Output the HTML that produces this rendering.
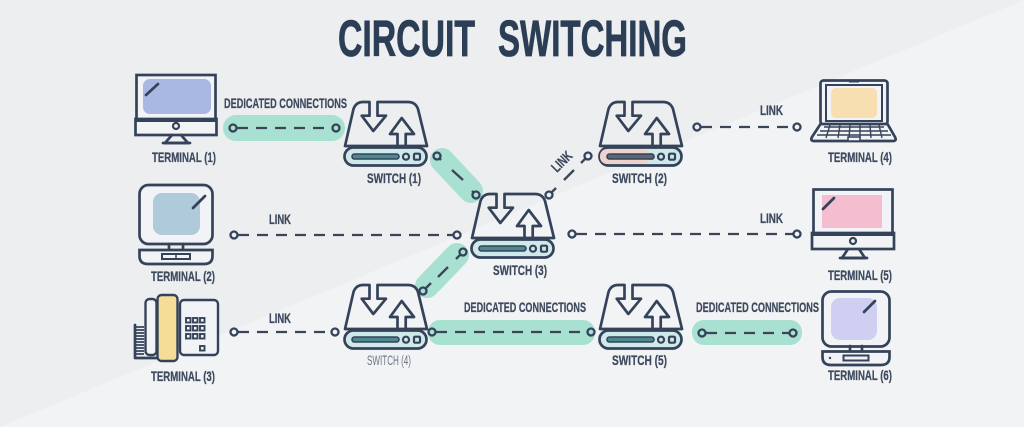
<!DOCTYPE html>
<html><head><meta charset="utf-8"><title>Circuit Switching</title>
<style>
html,body{margin:0;padding:0;background:#eceef0}
svg{display:block}
text{font-family:"Liberation Sans",sans-serif;font-weight:700;fill:#3d4a5e}
.t{font-size:14px;stroke:#3d4a5e;stroke-width:.25}
.h{font-size:51px;fill:#2c3e55;stroke:#2c3e55;stroke-width:.8}
.ln{fill:none;stroke:#35435a;stroke-width:2.7;stroke-linejoin:round;stroke-linecap:round}
.d{fill:none;stroke:#3a4658;stroke-width:2.3;stroke-dasharray:11 8}
.s{fill:none;stroke:#3a4658;stroke-width:2.3}
.c{fill:none;stroke:#35435a;stroke-width:2.3}
.g{fill:none;stroke:#a8e0d2;stroke-linecap:round}
</style></head><body>
<svg width="1024" height="427" viewBox="0 0 1024 427" xmlns="http://www.w3.org/2000/svg">
<defs>
<g id="sw">
<path class="ln" d="M26.500 2H20Q13 2 10.500 9L2 46H84L75 9Q72.500 2 65 2H34.500V15.700H43L30.300 31L18.700 15.700H26.500Z"/>
<path class="ln" d="M54.500 46V34H47L58.700 18L71 34H62.700V46"/>
<rect x="1.500" y="47.500" width="82" height="18" rx="9" fill="#cfe8ea" stroke="#35435a" stroke-width="2.700"/>
<rect x="9" y="54" width="47" height="5" rx="2.500" fill="#4d8a90" stroke="#35435a" stroke-width="1.600"/>
<circle cx="63" cy="56.700" r="3" fill="none" stroke="#35435a" stroke-width="2.200"/>
<rect x="71" y="53.700" width="6" height="6" rx="1" fill="none" stroke="#35435a" stroke-width="2.200"/>
</g>
</defs>
<rect width="1024" height="427" fill="#eceef0"/>
<polygon points="1024,0 1024,427 0,427" fill="#f1f3f5"/>

<text class="h" x="338" y="56" textLength="137" lengthAdjust="spacingAndGlyphs">CIRCUIT</text>
<text class="h" x="498" y="56" textLength="189" lengthAdjust="spacingAndGlyphs">SWITCHING</text>

<!-- teal pills -->
<rect x="223" y="115" width="122" height="26" rx="13" fill="#a8e0d2"/>
<line class="g" x1="442" y1="160" x2="471" y2="191" stroke-width="24"/>
<line class="g" x1="457" y1="255" x2="427" y2="286" stroke-width="24"/>
<rect x="428" y="320" width="167" height="25" rx="12" fill="#a8e0d2"/>
<rect x="692" y="320" width="110" height="25" rx="12" fill="#a8e0d2"/>

<!-- connectors -->
<path class="d" d="M237 128H332"/><circle class="c" cx="233" cy="128" r="3.500"/><circle class="c" cx="336" cy="128" r="3.500"/>
<path class="s" d="M452 170L463 180M439 158L441 160M472 191L474 193"/><circle class="c" cx="437" cy="156" r="3.500"/><circle class="c" cx="476" cy="195" r="3.500"/>
<path class="s" d="M438 277L448 267M426 288L431 283M460 255L456 259"/><circle class="c" cx="463" cy="252" r="3.500"/><circle class="c" cx="423" cy="291" r="3.500"/>
<path class="d" d="M436 332H587"/><circle class="c" cx="432" cy="332" r="3.500"/><circle class="c" cx="591" cy="332" r="3.500"/>
<path class="d" d="M706 333H789"/><circle class="c" cx="702" cy="333" r="3.500"/><circle class="c" cx="793" cy="333" r="3.500"/>
<path class="d" d="M701 127H793"/><circle class="c" cx="697" cy="127" r="3.500"/><circle class="c" cx="797" cy="127" r="3.500"/>
<path class="d" d="M238 235H453"/><circle class="c" cx="234" cy="235" r="3.500"/><circle class="c" cx="457" cy="235" r="3.500"/>
<path class="d" d="M576 234H793"/><circle class="c" cx="572" cy="234" r="3.500"/><circle class="c" cx="797" cy="234" r="3.500"/>
<path class="d" d="M238 332H331"/><circle class="c" cx="234" cy="332" r="3.500"/><circle class="c" cx="335" cy="332" r="3.500"/>
<circle class="c" cx="588" cy="156" r="3.500"/><circle class="c" cx="549" cy="195" r="3.500"/>
<path class="s" d="M564 180L574 170M552 192L556 188M585 159L581 163"/>

<!-- switches -->
<use href="#sw" x="343" y="100"/>
<use href="#sw" x="598" y="100"/>
<use href="#sw" x="470" y="192"/>
<use href="#sw" x="343" y="283"/>
<use href="#sw" x="598" y="283"/>
<rect x="600" y="149" width="50" height="15" rx="7" fill="#eed3cc"/>
<rect x="607" y="154" width="47" height="5" rx="2.500" fill="#5f6670" stroke="#35435a" stroke-width="1.600"/>

<!-- Terminal 1 -->
<rect x="136.500" y="75" width="79" height="45" fill="#f2f3f6" stroke="#35435a" stroke-width="2.700"/>
<rect x="143" y="79" width="68" height="35" rx="7" fill="#a9b8e2"/>
<path class="ln" d="M146 95L158 84"/>
<rect x="135.500" y="119" width="81" height="16" fill="#f2f3f5" stroke="#35435a" stroke-width="2.700"/>
<line x1="135" y1="120.500" x2="217" y2="120.500" stroke="#35435a" stroke-width="3"/>
<circle cx="176" cy="126" r="3" fill="none" stroke="#35435a" stroke-width="2.200"/>
<path class="ln" d="M172 135L165 143H188L181 135"/><path class="ln" d="M163 143H190"/>

<!-- Terminal 5 -->
<rect x="813.500" y="189.500" width="79" height="45" fill="#f2f3f6" stroke="#35435a" stroke-width="2.700"/>
<rect x="822" y="195" width="60" height="33" fill="#f4bdd0"/>
<path class="ln" d="M823 209L834 198"/>
<rect x="812" y="233" width="82" height="16" fill="#f2f3f5" stroke="#35435a" stroke-width="2.700"/>
<line x1="811" y1="234.500" x2="895" y2="234.500" stroke="#35435a" stroke-width="3"/>
<circle cx="853" cy="241" r="3" fill="none" stroke="#35435a" stroke-width="2.200"/>
<path class="ln" d="M848 249L842 258H865L859 249"/><path class="ln" d="M840 258H867"/>

<!-- Terminal 2 -->
<rect x="139.500" y="185" width="73" height="59" rx="9" fill="#f2f3f6" stroke="#35435a" stroke-width="2.700"/>
<rect x="153" y="193" width="47" height="42" rx="9" fill="#afcbd9"/>
<path class="ln" d="M193 208L205 196"/>
<path class="ln" d="M169 244V250M183 244V250"/>
<path d="M139.500 250H212.500V256Q212.500 264 204 264H148Q139.500 264 139.500 256Z" fill="#f2f3f6" stroke="#35435a" stroke-width="2.700"/>
<rect x="162" y="254" width="28" height="5" fill="none" stroke="#35435a" stroke-width="2"/>
<line x1="176" y1="254" x2="176" y2="259" stroke="#35435a" stroke-width="1.500"/>

<!-- Terminal 6 -->
<rect x="822.500" y="291.500" width="67" height="55" rx="9" fill="#f2f3f6" stroke="#35435a" stroke-width="2.700"/>
<rect x="831" y="298" width="46" height="42" rx="9" fill="#cfcff2"/>
<path class="ln" d="M864 312L875 301"/>
<path class="ln" d="M850 346V351M862 346V351"/>
<path d="M822.500 351.500H889.500V357Q889.500 365 881 365H831Q822.500 365 822.500 357Z" fill="#f2f3f6" stroke="#35435a" stroke-width="2.700"/>
<rect x="843.500" y="355.500" width="25" height="5" fill="none" stroke="#35435a" stroke-width="2"/>
<circle cx="830" cy="358" r="1.200" fill="#35435a"/>

<!-- Terminal 4 -->
<rect x="820.500" y="80.500" width="67" height="44" rx="3" fill="#f2f3f6" stroke="#35435a" stroke-width="2.700"/>
<rect x="826" y="85" width="56" height="36" fill="none" stroke="#35435a" stroke-width="2"/>
<rect x="831" y="88" width="46" height="30" rx="5" fill="#f7dfb1"/>
<rect x="849" y="80" width="10" height="2.500" fill="#35435a"/>
<path d="M820.500 124L812 137Q810 141 814 141H893Q897 141 895 137L887.500 124Z" fill="#f2f3f5" stroke="#35435a" stroke-width="2.700" stroke-linejoin="round"/>
<path d="M824 127H884M820 131H888M817 135H891M830 125L826 138M840 125L838 138M850 125L849 138M860 125L860 138M870 125L871 138M879 125L882 138" stroke="#35435a" stroke-width="1.400" fill="none"/>
<rect x="848" y="137" width="12" height="4" fill="#f2f3f5" stroke="#35435a" stroke-width="1.500"/>

<!-- Terminal 3 -->
<rect x="145.500" y="299" width="11" height="56" rx="4" fill="#f2f3f6" stroke="#35435a" stroke-width="2.400"/>
<path d="M135 327h9M135 330h9M135 333h9M135 336h9M135 339h9M135 342h9M135 345h9M135 348h9M135 351h9M135 354h9" stroke="#35435a" stroke-width="1.800"/>
<path class="ln" d="M135 325V358H157" stroke-width="2"/>
<rect x="157.500" y="295" width="20" height="66" rx="4" fill="#f5dd98" stroke="#35435a" stroke-width="2.400"/>
<rect x="180" y="300" width="38" height="55" rx="4" fill="#f2f3f6" stroke="#35435a" stroke-width="2.400"/>
<g fill="none" stroke="#35435a" stroke-width="1.900">
<rect x="186" y="318" width="4.500" height="4.500"/><rect x="193" y="318" width="4.500" height="4.500"/><rect x="200" y="318" width="4.500" height="4.500"/>
<rect x="186" y="326" width="4.500" height="4.500"/><rect x="193" y="326" width="4.500" height="4.500"/><rect x="200" y="326" width="4.500" height="4.500"/>
<rect x="186" y="334" width="4.500" height="4.500"/><rect x="193" y="334" width="4.500" height="4.500"/><rect x="200" y="334" width="4.500" height="4.500"/>
<rect x="200" y="346" width="4.500" height="4.500"/>
</g>

<!-- labels -->
<text class="t" x="152" y="162" textLength="64" lengthAdjust="spacingAndGlyphs">TERMINAL (1)</text>
<text class="t" x="151" y="281" textLength="64" lengthAdjust="spacingAndGlyphs">TERMINAL (2)</text>
<text class="t" x="151" y="381" textLength="64" lengthAdjust="spacingAndGlyphs">TERMINAL (3)</text>
<text class="t" x="828" y="162" textLength="64" lengthAdjust="spacingAndGlyphs">TERMINAL (4)</text>
<text class="t" x="828" y="280" textLength="64" lengthAdjust="spacingAndGlyphs">TERMINAL (5)</text>
<text class="t" x="828" y="380" textLength="64" lengthAdjust="spacingAndGlyphs">TERMINAL (6)</text>
<text class="t" x="367" y="183" textLength="54" lengthAdjust="spacingAndGlyphs">SWITCH (1)</text>
<text class="t" x="612" y="183" textLength="55" lengthAdjust="spacingAndGlyphs">SWITCH (2)</text>
<text class="t" x="493" y="275" textLength="54" lengthAdjust="spacingAndGlyphs">SWITCH (3)</text>
<text x="367" y="365" font-size="14" textLength="44" lengthAdjust="spacingAndGlyphs" style="font-weight:400;fill:#6d7682">SWITCH (4)</text>
<text class="t" x="612" y="365" textLength="55" lengthAdjust="spacingAndGlyphs">SWITCH (5)</text>
<text class="t" x="224" y="108" textLength="123" lengthAdjust="spacingAndGlyphs">DEDICATED CONNECTIONS</text>
<text class="t" x="464" y="312" textLength="122" lengthAdjust="spacingAndGlyphs">DEDICATED CONNECTIONS</text>
<text class="t" x="696" y="312" textLength="123" lengthAdjust="spacingAndGlyphs">DEDICATED CONNECTIONS</text>
<text class="t" x="760" y="115" textLength="23" lengthAdjust="spacingAndGlyphs">LINK</text>
<text class="t" x="269" y="224" textLength="22" lengthAdjust="spacingAndGlyphs">LINK</text>
<text class="t" x="269" y="323" textLength="22" lengthAdjust="spacingAndGlyphs">LINK</text>
<text class="t" x="760" y="223" textLength="23" lengthAdjust="spacingAndGlyphs">LINK</text>
<text class="t" x="0" y="0" textLength="23" lengthAdjust="spacingAndGlyphs" transform="translate(557 173) rotate(-45)">LINK</text>
</svg>
</body></html>
